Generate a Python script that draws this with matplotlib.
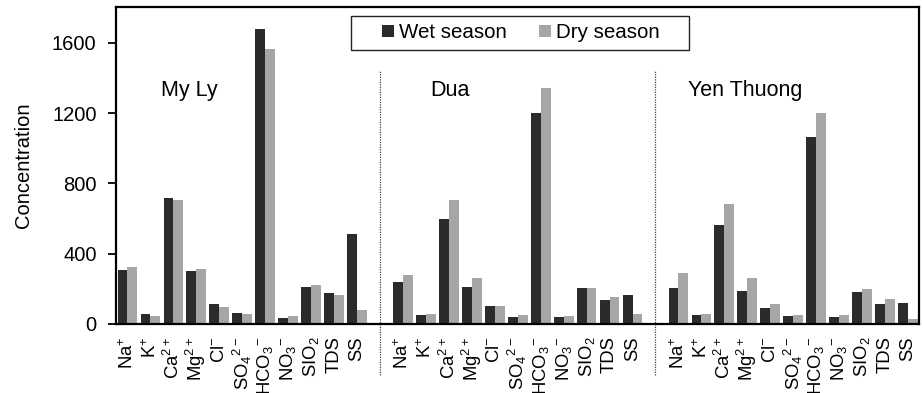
import matplotlib
matplotlib.use('Agg')
import matplotlib.pyplot as plt
import matplotlib.transforms as mtransforms
from matplotlib.patches import Rectangle
import numpy as np

plt.rcParams['font.family'] = ['Liberation Sans', 'DejaVu Sans']
plt.rcParams['mathtext.fontset'] = 'custom'
plt.rcParams['mathtext.rm'] = 'Liberation Sans'
plt.rcParams['mathtext.default'] = 'regular'

# parameters measured at each site
params = ['Na$^{+}$', 'K$^{+}$', 'Ca$^{2+}$', 'Mg$^{2+}$', 'Cl$^{-}$',
          'SO$_{4}$$^{2-}$', 'HCO$_{3}$$^{-}$', 'NO$_{3}$$^{-}$', 'SIO$_{2}$',
          'TDS', 'SS']
sites = ['My Ly', 'Dua', 'Yen Thuong']

wet_myly = [307, 55, 718, 304, 112, 63, 1678, 32, 213, 177, 511]
dry_myly = [323, 47, 704, 315, 99, 59, 1568, 44, 220, 165, 80]
wet_dua = [241, 49, 598, 209, 101, 40, 1203, 40, 205, 135, 165]
dry_dua = [281, 55, 704, 260, 104, 51, 1344, 47, 205, 152, 55]
wet_yen = [205, 49, 566, 190, 89, 44, 1063, 38, 182, 116, 120]
dry_yen = [289, 55, 682, 260, 112, 51, 1200, 51, 198, 141, 27]

wet_all = [wet_myly, wet_dua, wet_yen]
dry_all = [dry_myly, dry_dua, dry_yen]

#one empty slot between the sites
n = len(params)
w = 0.43
fig = plt.figure(figsize=(9.23, 3.93), dpi=100)
ax = fig.add_axes([0.1257, 0.1756, 0.8705, 0.8066])

xticks = []
xlabels = []
for k in range(len(sites)):
    x = np.arange(n) + k * (n + 1)
    ax.bar(x - w / 2, wet_all[k], width=w, color='#2b2b2b',
           label='Wet season' if k == 0 else None)
    ax.bar(x + w / 2, dry_all[k], width=w, color='#a6a6a6',
           label='Dry season' if k == 0 else None)
    xticks += list(x)
    xlabels += params

# site names
name_x = [1.45, 13.2, 24.4]
for k in range(len(sites)):
    ax.text(name_x[k], 1330, sites[k], fontsize=15.5, ha='left', va='center')

# dotted separators between sites
trans = mtransforms.blended_transform_factory(ax.transData, ax.transAxes)
for k in range(1, len(sites)):
    xs = k * (n + 1) - 1
    ax.plot([xs, xs], [-0.16, 0.80], transform=trans, clip_on=False,
            color='#444444', lw=0.9, ls=(0, (1, 1)))

ax.set_xlim(-0.5, 3 * n + 2 - 0.5)
ax.set_ylim(0, 1805)
ax.set_yticks([0, 400, 800, 1200, 1600])
ax.set_xticks(xticks)
ax.set_xticklabels(xlabels, rotation=90, fontsize=13.3)
ax.tick_params(axis='x', length=0, pad=9)
ax.tick_params(axis='y', labelsize=14.5, length=6, width=1.3, pad=8)
ax.set_ylabel('Concentration', fontsize=14.5)
ax.yaxis.set_label_coords(-0.103, 0.5)

for s in ax.spines.values():
    s.set_linewidth(1.6)

# legend box
leg = ax.legend(loc='center', bbox_to_anchor=(0.504, 0.918), ncol=2,
                fontsize=14.8, frameon=False, borderaxespad=0,
                handlelength=0.55, handleheight=0.55, handletextpad=0.25,
                columnspacing=1.6, borderpad=0.2)
ax.add_patch(Rectangle((0.2925, 0.864), 0.4206, 0.1076, transform=ax.transAxes,
                       fill=False, edgecolor='#222222', lw=1.0, clip_on=False))

fig.savefig('out.png', dpi=100)
